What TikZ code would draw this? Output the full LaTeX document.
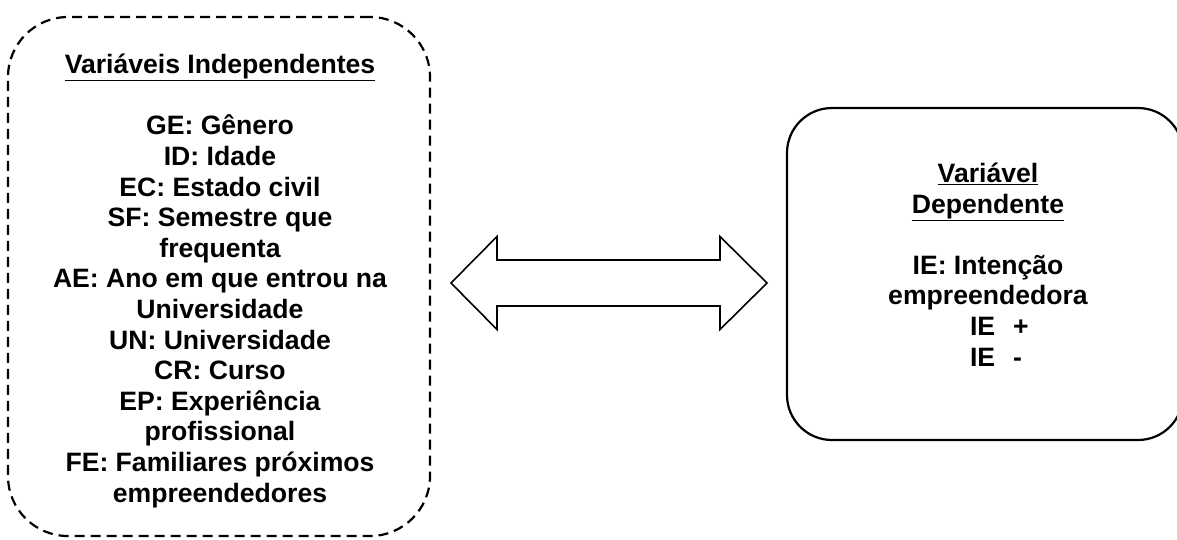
\documentclass[tikz,border=0pt]{standalone}
\usepackage{fontspec}
\setmainfont{Liberation Sans}
\usetikzlibrary{positioning}

\begin{document}
\begin{tikzpicture}[
  x=1pt, y=-1pt,
  every node/.style={font=\bfseries\fontsize{26.6}{30.6}\selectfont},
  varbox/.style   = {draw, line width=2.2pt, inner sep=0pt},
  vartext/.style  = {align=center, inner sep=0pt, anchor=base},
  bigarrow/.style = {draw, line width=1.6pt, line join=miter},
]
  \useasboundingbox (0,0) rectangle (1177,539);
  % caixas
  \node[varbox, dash pattern=on 10pt off 6pt, rounded corners=60pt,
        minimum width=422pt, minimum height=519pt] (indep) at (219,276.5) {};
  \node[varbox, rounded corners=45pt,
        minimum width=396pt, minimum height=332pt] (dep) at (985,274) {};
  % textos (ancorados na linha de base da ultima linha)
  \node[vartext] (indeptxt) at (220,502) {\underline{Variáveis Independentes}\\[30.6pt]
    GE: Gênero\\ ID: Idade\\ EC: Estado civil\\ SF: Semestre que\\ frequenta\\
    AE: Ano em que entrou na\\ Universidade\\ UN: Universidade\\ CR: Curso\\
    EP: Experiência\\ profissional\\ FE: Familiares próximos\\ empreendedores};
  \node[vartext] (deptxt) at (988,366) {\underline{Variável}\\ \underline{Dependente}\\[30.6pt]
    IE: Intenção\\ empreendedora\\
    \hspace*{22pt}\makebox[58pt][l]{IE\hspace{18pt}+}\\
    \hspace*{22pt}\makebox[58pt][l]{IE\hspace{18pt}-}};
  % seta dupla
  \coordinate (ltip) at (451,283);
  \coordinate (rtip) at (767,283);
  \draw[bigarrow] (ltip) -- ++(46,-46.5) -- ++(0,23.5) -- ++(223,0) -- ++(0,-23.5)
    -- (rtip) -- ++(-47,46.5) -- ++(0,-23.5) -- ++(-223,0) -- ++(0,23.5) -- cycle;
\end{tikzpicture}
\end{document}
